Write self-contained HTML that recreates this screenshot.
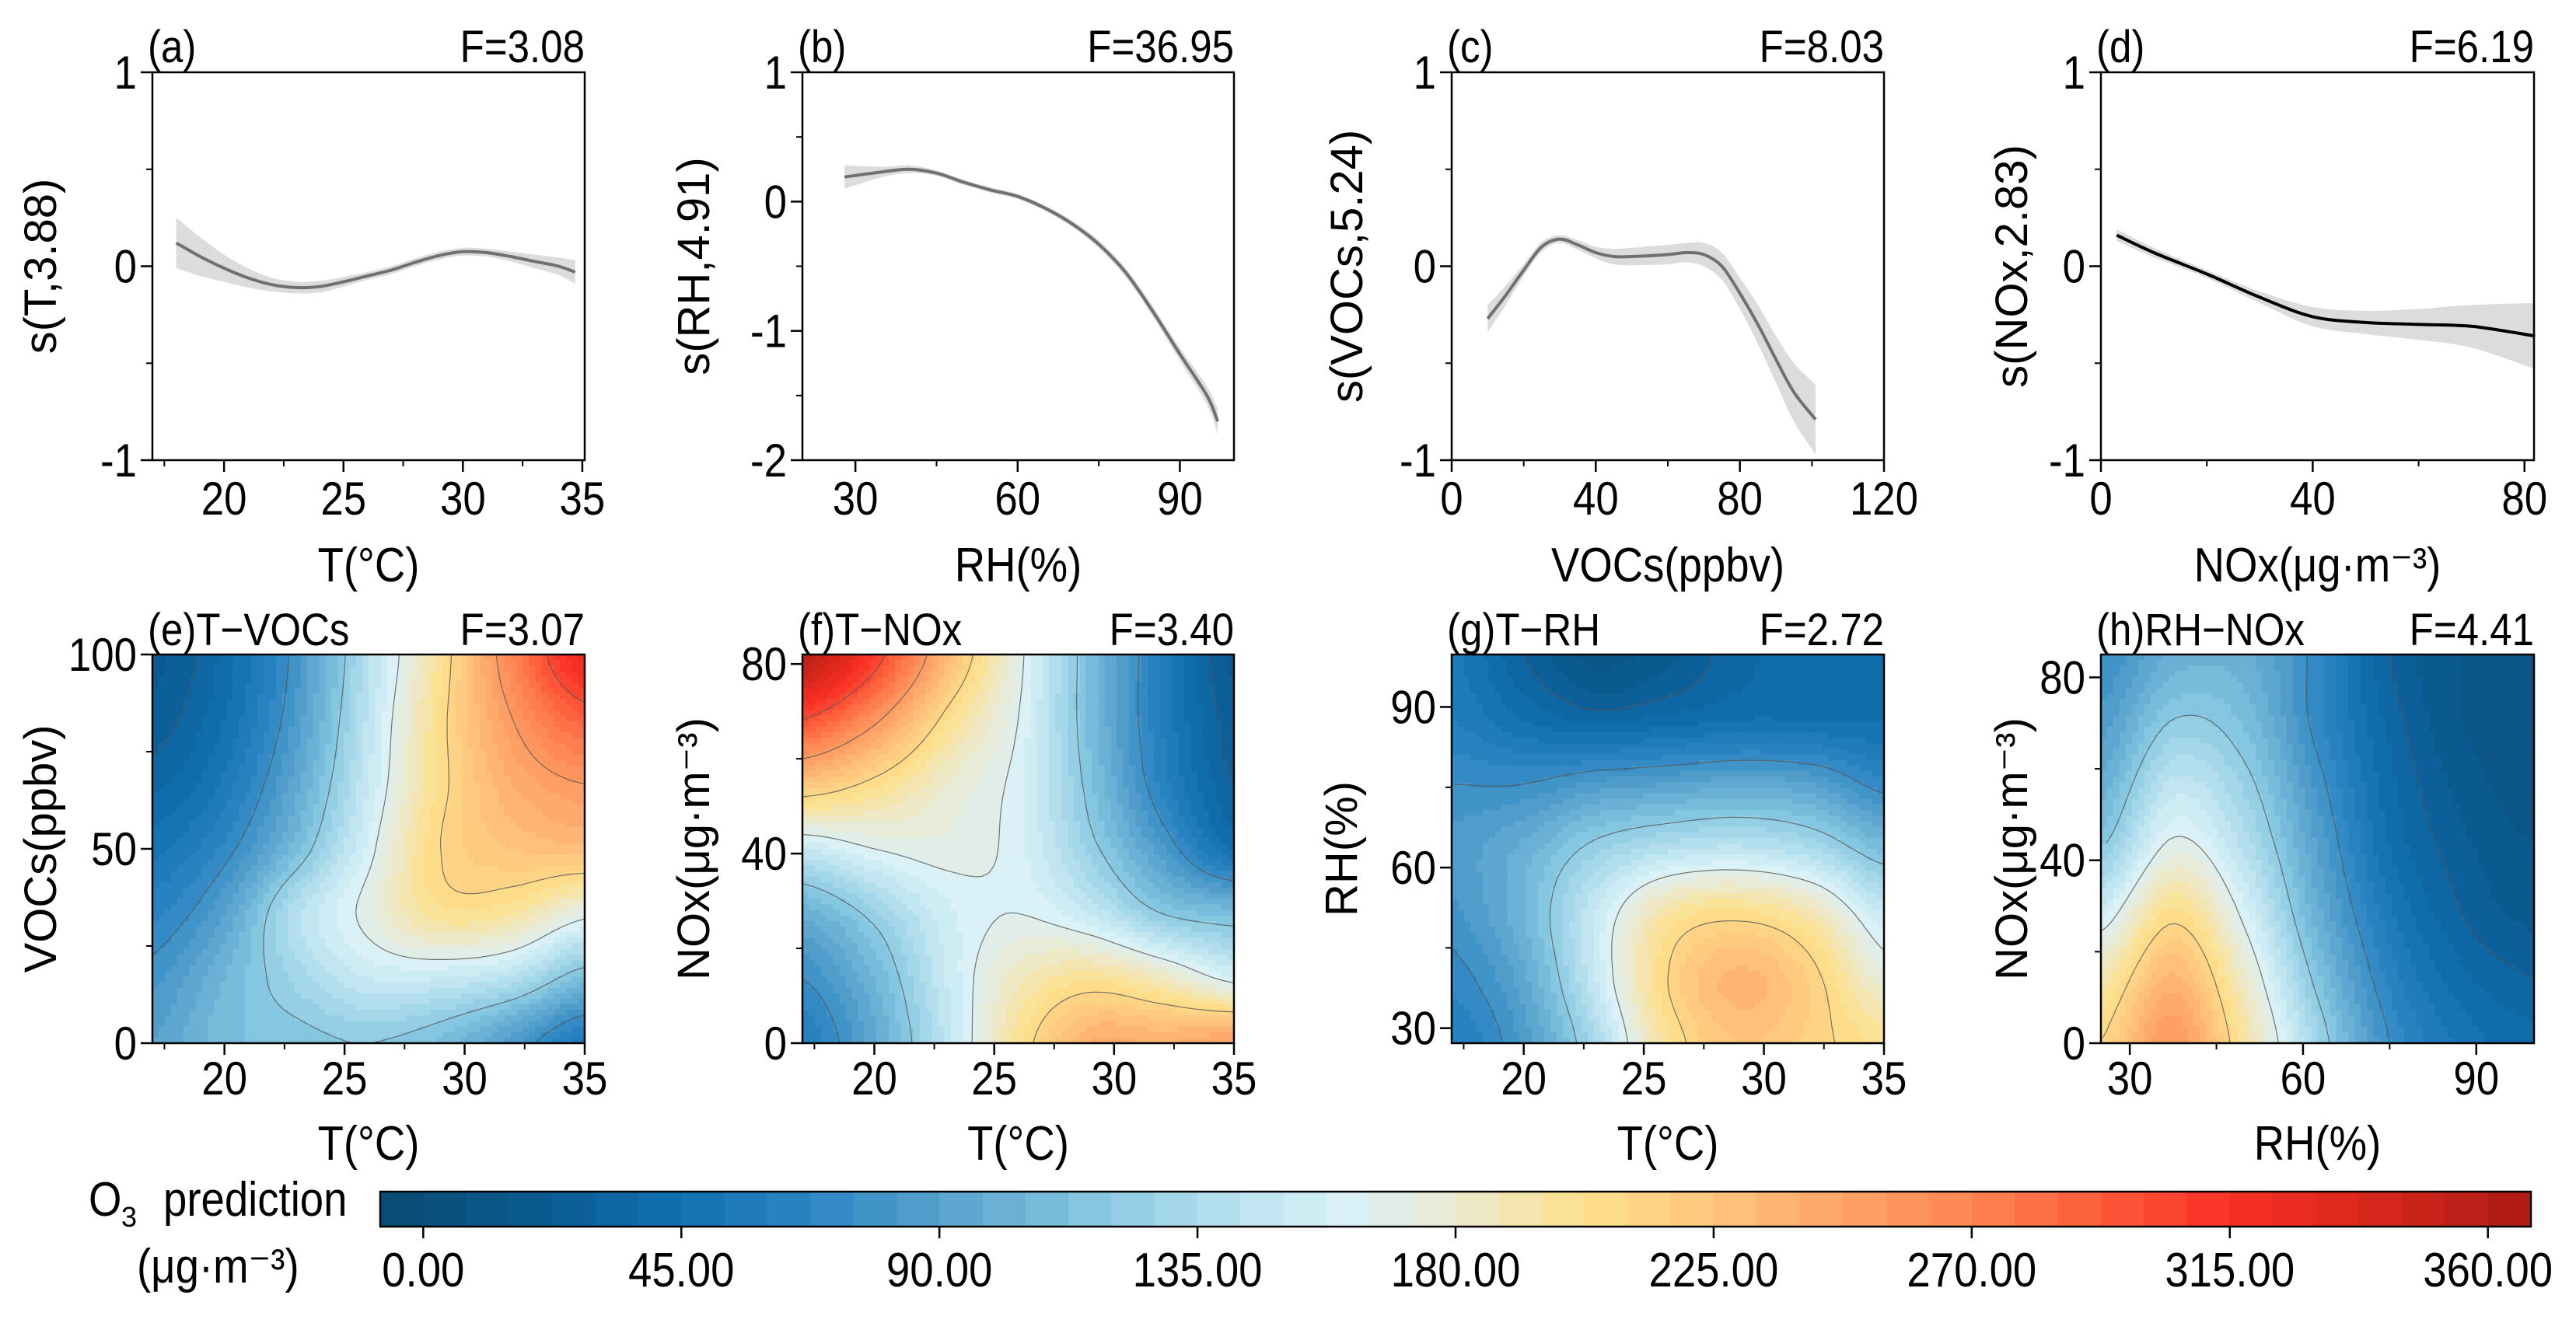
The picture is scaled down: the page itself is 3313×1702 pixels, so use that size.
<!DOCTYPE html>
<html><head><meta charset="utf-8">
<style>
html,body{margin:0;padding:0;background:#fff;}
svg{display:block;font-family:"Liberation Sans",Arial,sans-serif;}
</style></head>
<body>
<svg id="fig" width="3313" height="1702" viewBox="0 0 3313 1702" xmlns="http://www.w3.org/2000/svg"></svg>
<script>
// ===== data: smooth terms (top row) =====
const aX = [18,19,20,21,22,23,24,25,26,27,28,29,30,31,32,33,34,34.7];
const aY = [0.12,0.05,-0.01,-0.06,-0.095,-0.11,-0.105,-0.08,-0.05,-0.02,0.02,0.055,0.075,0.07,0.05,0.025,0.0,-0.03];
const aE = [0.13,0.1,0.07,0.05,0.035,0.03,0.03,0.025,0.02,0.02,0.02,0.02,0.02,0.02,0.025,0.035,0.045,0.06];
const bX = [28,35,40,45,50,55,60,65,70,75,80,85,90,95,97];
const bY = [0.19,0.23,0.25,0.22,0.15,0.09,0.04,-0.05,-0.17,-0.33,-0.55,-0.85,-1.18,-1.5,-1.7];
const bE = [0.09,0.04,0.03,0.02,0.02,0.02,0.02,0.02,0.025,0.03,0.035,0.04,0.05,0.07,0.1];
const cX = [10,15,20,25,30,35,40,45,50,60,65,70,75,80,85,90,95,101];
const cY = [-0.27,-0.15,-0.02,0.1,0.14,0.11,0.07,0.05,0.05,0.06,0.07,0.06,0.0,-0.14,-0.3,-0.48,-0.65,-0.79];
const cE = [0.07,0.05,0.03,0.025,0.02,0.025,0.03,0.04,0.045,0.05,0.05,0.06,0.07,0.08,0.1,0.12,0.15,0.18];
const dX = [3,10,20,30,40,50,60,70,82];
const dY = [0.16,0.07,-0.04,-0.16,-0.26,-0.29,-0.3,-0.31,-0.36];
const dE = [0.03,0.025,0.02,0.03,0.05,0.06,0.08,0.11,0.17];

// ===== data: interaction surfaces (rows top->bottom, cols left->right) =====
const eGrid = [
 [20,40,80,140,200,270,325],
 [25,45,85,145,205,255,290],
 [35,55,95,150,205,240,255],
 [50,70,110,160,210,225,230],
 [65,90,140,170,200,195,170],
 [80,105,130,150,150,140,110],
 [90,110,115,120,110,85,55]];
const fGrid = [
 [360,310,235,170,110,60,20],
 [300,260,205,165,110,60,25],
 [225,205,180,160,115,65,30],
 [150,165,170,160,125,85,45],
 [100,125,155,165,150,120,110],
 [75,105,150,185,200,185,160],
 [60,95,145,200,240,240,250]];
const gGrid = [
 [55,30,12,20,35,40,40],
 [60,45,35,40,45,45,45],
 [75,75,85,90,95,90,70],
 [85,100,125,140,145,135,110],
 [80,105,150,195,205,190,150],
 [70,95,150,210,235,215,175],
 [60,85,135,200,225,215,200]];
const hGrid = [
 [75,100,100,70,30,15,10],
 [85,120,110,70,35,15,10],
 [100,145,125,80,40,20,10],
 [120,170,140,90,45,25,15],
 [155,205,160,100,55,30,20],
 [190,235,180,115,65,40,30],
 [210,255,195,130,75,50,40]];
const cbTicks = [0,45,90,135,180,225,270,315,360];
const contourLevels = [30,75,120,165,210,255,300];

// ===== helpers =====
const NS="http://www.w3.org/2000/svg";
const svg=document.getElementById('fig');
function mk(tag,attrs,parent){const e=document.createElementNS(NS,tag);for(const k in attrs)e.setAttribute(k,attrs[k]);(parent||svg).appendChild(e);return e;}
function txt(s,x,y,size,anchor,parent,extra){const t=mk('text',Object.assign({x:x,y:y,'font-size':size,'text-anchor':anchor||'middle',fill:'#000'},extra||{}),parent);t.textContent=s;return t;}

const stops=[[0,'#0a4a72'],[0.08,'#0b5c93'],[0.14,'#1170b0'],[0.2,'#2c85c2'],[0.27,'#5ea7d0'],[0.34,'#8ccbe3'],[0.41,'#c2e6f1'],[0.45,'#d9f1f7'],[0.5,'#ebe9cf'],[0.56,'#fde08c'],[0.62,'#fec57d'],[0.68,'#fea568'],[0.74,'#fe8553'],[0.8,'#fd5b3b'],[0.86,'#f92f24'],[0.93,'#d5261c'],[1,'#ab1a16']];
function hex(h){return [parseInt(h.substr(1,2),16),parseInt(h.substr(3,2),16),parseInt(h.substr(5,2),16)];}
function cmap(t){t=Math.max(0,Math.min(1,t));for(let i=1;i<stops.length;i++){if(t<=stops[i][0]){const a=stops[i-1],b=stops[i];const f=(t-a[0])/(b[0]-a[0]);const ca=hex(a[1]),cb=hex(b[1]);return 'rgb('+ca.map((v,j)=>Math.round(v+(cb[j]-v)*f)).join(',')+')';}}return stops[stops.length-1][1];}
const VMIN=-7.5,VMAX=367.5,NB=50;
function levelColor(v){let k=Math.floor((v-VMIN)/7.5);k=Math.max(0,Math.min(NB-1,k));return cmap((k+0.5)/NB);}

function cr(p0,p1,p2,p3,t){return 0.5*((2*p1)+(-p0+p2)*t+(2*p0-5*p1+4*p2-p3)*t*t+(-p0+3*p1-3*p2+p3)*t*t*t);}
function interp1(arr,s){const n=arr.length-1;let x=s*n;let i=Math.min(n-1,Math.floor(x));const t=x-i;const g=j=>arr[Math.max(0,Math.min(n,j))];return cr(g(i-1),g(i),g(i+1),g(i+2),t);}
function sample(grid,u,v){const rows=grid.map(r=>interp1(r,u));return interp1(rows.slice().reverse(),v);}

function smoothPath(pts){let d='M'+pts[0][0].toFixed(1)+','+pts[0][1].toFixed(1);for(let i=0;i<pts.length-1;i++){const p0=pts[Math.max(0,i-1)],p1=pts[i],p2=pts[i+1],p3=pts[Math.min(pts.length-1,i+2)];const c1=[p1[0]+(p2[0]-p0[0])/6,p1[1]+(p2[1]-p0[1])/6],c2=[p2[0]-(p3[0]-p1[0])/6,p2[1]-(p3[1]-p1[1])/6];d+='C'+c1[0].toFixed(1)+','+c1[1].toFixed(1)+' '+c2[0].toFixed(1)+','+c2[1].toFixed(1)+' '+p2[0].toFixed(1)+','+p2[1].toFixed(1);}return d;}

const TICKFS=60, SX=0.88;
function sc(x,y){return 'translate('+x+','+y+') scale('+SX+',1) translate('+(-x)+','+(-y)+')';}
function axes(g,L,R,T,B,xt,yt,sx,sy,xminor,yminor,xlabelY){
  mk('rect',{x:L,y:T,width:R-L,height:B-T,fill:'none',stroke:'#000','stroke-width':2.5},g);
  xt.forEach(v=>{const x=sx(v);mk('line',{x1:x,y1:B,x2:x,y2:B+15,stroke:'#000','stroke-width':2.5},g);const t=txt(String(v),x,xlabelY,TICKFS,'middle',g,{transform:sc(x,xlabelY)});});
  xminor.forEach(v=>{const x=sx(v);mk('line',{x1:x,y1:B,x2:x,y2:B+8,stroke:'#000','stroke-width':2},g);});
  yt.forEach(v=>{const y=sy(v);mk('line',{x1:L-15,y1:y,x2:L,y2:y,stroke:'#000','stroke-width':2.5},g);const tx=L-20;const t=txt(String(v),tx,y+21,TICKFS,'end',g,{transform:sc(tx,y)});});
  yminor.forEach(v=>{const y=sy(v);mk('line',{x1:L-8,y1:y,x2:L,y2:y,stroke:'#000','stroke-width':2},g);});
}
function condensed(s,x,y,size,anchor,g,name){const t=txt(s,x,y,size,anchor,g,{transform:sc(x,y)});return t;}
function ytitle(s,x,y,g,name,size){const t=txt(s,x,y,size||58,'middle',g,{transform:'rotate(-90 '+x+' '+y+')'});return t;}

// ===== top row: smooth term panels =====
function linePanel(cfg){
  const g=mk('g',{});
  
  
  const {L,R,T,B}=cfg;
  const sx=v=>L+(v-cfg.xmin)/(cfg.xmax-cfg.xmin)*(R-L);
  const sy=v=>B-(v-cfg.ymin)/(cfg.ymax-cfg.ymin)*(B-T);
  const up=cfg.X.map((x,i)=>[sx(x),sy(cfg.Y[i]+cfg.E[i])]);
  const lo=cfg.X.map((x,i)=>[sx(x),sy(cfg.Y[i]-cfg.E[i])]).reverse();
  const band=mk('path',{d:smoothPath(up)+' L'+smoothPath(lo).slice(1)+' Z',fill:'#dcdcdc',stroke:'none'},g);
  
  
  const ln=mk('path',{d:smoothPath(cfg.X.map((x,i)=>[sx(x),sy(cfg.Y[i])])),fill:'none',stroke:cfg.color,'stroke-width':4},g);
  
  
  axes(g,L,R,T,B,cfg.xt,cfg.yt,sx,sy,cfg.xminor,cfg.yminor,662);
  condensed(cfg.tag,L-6,80,58,'start',g,'panel-label');
  condensed(cfg.F,R,80,58,'end',g,'f-statistic');
  condensed(cfg.xlab,(L+R)/2,748,62,'middle',g,'x-axis-title');
  ytitle(cfg.ylab,cfg.yx,(T+B)/2,g,'y-axis-title');
}
linePanel({name:'panel-a-temperature',L:196,R:752,T:93,B:592,xmin:17,xmax:35.1,ymin:-1,ymax:1,X:aX,Y:aY,E:aE,color:'#707070',xt:[20,25,30,35],xminor:[17.5,22.5,27.5,32.5],yt:[1,0,-1],yminor:[0.5,-0.5],tag:'(a)',F:'F=3.08',xlab:'T(°C)',ylab:'s(T,3.88)',yx:72});
linePanel({name:'panel-b-humidity',L:1032,R:1587,T:93,B:592,xmin:20.2,xmax:100,ymin:-2,ymax:1,X:bX,Y:bY,E:bE,color:'#707070',xt:[30,60,90],xminor:[45,75],yt:[1,0,-1,-2],yminor:[0.5,-0.5,-1.5],tag:'(b)',F:'F=36.95',xlab:'RH(%)',ylab:'s(RH,4.91)',yx:912});
linePanel({name:'panel-c-vocs',L:1867,R:2423,T:93,B:592,xmin:0,xmax:120,ymin:-1,ymax:1,X:cX,Y:cY,E:cE,color:'#707070',xt:[0,40,80,120],xminor:[20,60,100],yt:[1,0,-1],yminor:[0.5,-0.5],tag:'(c)',F:'F=8.03',xlab:'VOCs(ppbv)',ylab:'s(VOCs,5.24)',yx:1752});
linePanel({name:'panel-d-nox',L:2702,R:3259,T:93,B:592,xmin:0,xmax:81.8,ymin:-1,ymax:1,X:dX,Y:dY,E:dE,color:'#000000',xt:[0,40,80],xminor:[20,60],yt:[1,0,-1],yminor:[0.5,-0.5],tag:'(d)',F:'F=6.19',xlab:'NOx(μg·m⁻³)',ylab:'s(NOx,2.83)',yx:2607});

// ===== bottom row: contour panels =====
let clipId=0;
function heatPanel(cfg){
  const g=mk('g',{});
  
  
  const {L,R,T,B}=cfg;
  const N=70,M=70;
  const cid='clip'+(clipId++);
  const cp=mk('clipPath',{id:cid},g);mk('rect',{x:L,y:T,width:R-L,height:B-T},cp);
  const hg=mk('g',{'clip-path':'url(#'+cid+')'},g);
  
  
  const vals=[];
  for(let j=0;j<=M;j++){vals.push([]);for(let i=0;i<=N;i++){vals[j].push(sample(cfg.grid,i/N,1-j/M));}}
  const cw=(R-L)/N,ch=(B-T)/M;
  for(let j=0;j<M;j++)for(let i=0;i<N;i++){
    const v=(vals[j][i]+vals[j][i+1]+vals[j+1][i]+vals[j+1][i+1])/4;
    mk('rect',{x:(L+i*cw).toFixed(2),y:(T+j*ch).toFixed(2),width:(cw+0.9).toFixed(2),height:(ch+0.9).toFixed(2),fill:levelColor(v)},hg);
  }
  let d='';
  contourLevels.forEach(lv=>{
    for(let j=0;j<M;j++)for(let i=0;i<N;i++){
      const c=[[i,j,vals[j][i]],[i+1,j,vals[j][i+1]],[i+1,j+1,vals[j+1][i+1]],[i,j+1,vals[j+1][i]]];
      const pts=[];
      for(let k=0;k<4;k++){const a=c[k],b=c[(k+1)%4];if((a[2]-lv)*(b[2]-lv)<0){const t=(lv-a[2])/(b[2]-a[2]);pts.push([L+(a[0]+(b[0]-a[0])*t)*cw,T+(a[1]+(b[1]-a[1])*t)*ch]);}}
      if(pts.length>=2){d+='M'+pts[0][0].toFixed(1)+','+pts[0][1].toFixed(1)+'L'+pts[1][0].toFixed(1)+','+pts[1][1].toFixed(1);}
      if(pts.length===4){d+='M'+pts[2][0].toFixed(1)+','+pts[2][1].toFixed(1)+'L'+pts[3][0].toFixed(1)+','+pts[3][1].toFixed(1);}
    }
  });
  const cl=mk('path',{d:d,fill:'none',stroke:'#555','stroke-width':1.2,'stroke-opacity':0.8},hg);
  
  
  const sx=v=>L+(v-cfg.xmin)/(cfg.xmax-cfg.xmin)*(R-L);
  const sy=v=>B-(v-cfg.ymin)/(cfg.ymax-cfg.ymin)*(B-T);
  axes(g,L,R,T,B,cfg.xt,cfg.yt,sx,sy,cfg.xminor,cfg.yminor,1408);
  condensed(cfg.tag,L-6,830,58,'start',g,'panel-label');
  condensed(cfg.F,R,830,58,'end',g,'f-statistic');
  condensed(cfg.xlab,(L+R)/2,1492,62,'middle',g,'x-axis-title');
  ytitle(cfg.ylab,cfg.yx,(T+B)/2,g,'y-axis-title');
}
heatPanel({name:'panel-e-t-vocs',L:196,R:752,T:842,B:1342,grid:eGrid,xmin:17,xmax:35,ymin:0,ymax:100,xt:[20,25,30,35],xminor:[17.5,22.5,27.5,32.5],yt:[100,50,0],yminor:[75,25],tag:'(e)T−VOCs',F:'F=3.07',xlab:'T(°C)',ylab:'VOCs(ppbv)',yx:72});
heatPanel({name:'panel-f-t-nox',L:1032,R:1587,T:842,B:1342,grid:fGrid,xmin:17,xmax:35,ymin:0,ymax:82,xt:[20,25,30,35],xminor:[17.5,22.5,27.5,32.5],yt:[80,40,0],yminor:[60,20],tag:'(f)T−NOx',F:'F=3.40',xlab:'T(°C)',ylab:'NOx(μg·m⁻³)',yx:912});
heatPanel({name:'panel-g-t-rh',L:1867,R:2423,T:842,B:1342,grid:gGrid,xmin:17,xmax:35,ymin:27.2,ymax:99.8,xt:[20,25,30,35],xminor:[17.5,22.5,27.5,32.5],yt:[90,60,30],yminor:[75,45],tag:'(g)T−RH',F:'F=2.72',xlab:'T(°C)',ylab:'RH(%)',yx:1745});
heatPanel({name:'panel-h-rh-nox',L:2702,R:3259,T:842,B:1342,grid:hGrid,xmin:25,xmax:100,ymin:0,ymax:85,xt:[30,60,90],xminor:[45,75],yt:[80,40,0],yminor:[60,20],tag:'(h)RH−NOx',F:'F=4.41',xlab:'RH(%)',ylab:'NOx(μg·m⁻³)',yx:2607});

// ===== colorbar =====
(function(){
  const g=mk('g',{});
  
  
  const L=489,R=3255,T=1533,B=1578;
  const sx=v=>L+(v-VMIN)/(VMAX-VMIN)*(R-L);
  for(let k=0;k<NB;k++){const v0=VMIN+k*7.5;mk('rect',{x:sx(v0).toFixed(2),y:T,width:((R-L)/NB+0.8).toFixed(2),height:B-T,fill:cmap((k+0.5)/NB)},g);}
  mk('rect',{x:L,y:T,width:R-L,height:B-T,fill:'none',stroke:'#000','stroke-width':2.5},g);
  cbTicks.forEach(v=>{const x=sx(v);mk('line',{x1:x,y1:B,x2:x,y2:B+15,stroke:'#000','stroke-width':2.5},g);condensed(v.toFixed(2),x,1655,62,'middle',g,'colorbar-tick-label');});
  condensed('O',114,1564,62,'start',g,'colorbar-title');
  txt('3',156,1578,36,'start',g);
  condensed('prediction',210,1564,62,'start',g,'colorbar-title-text');
  condensed('(μg·m⁻³)',176,1650,62,'start',g,'colorbar-unit');
})();
</script>
</body></html>
